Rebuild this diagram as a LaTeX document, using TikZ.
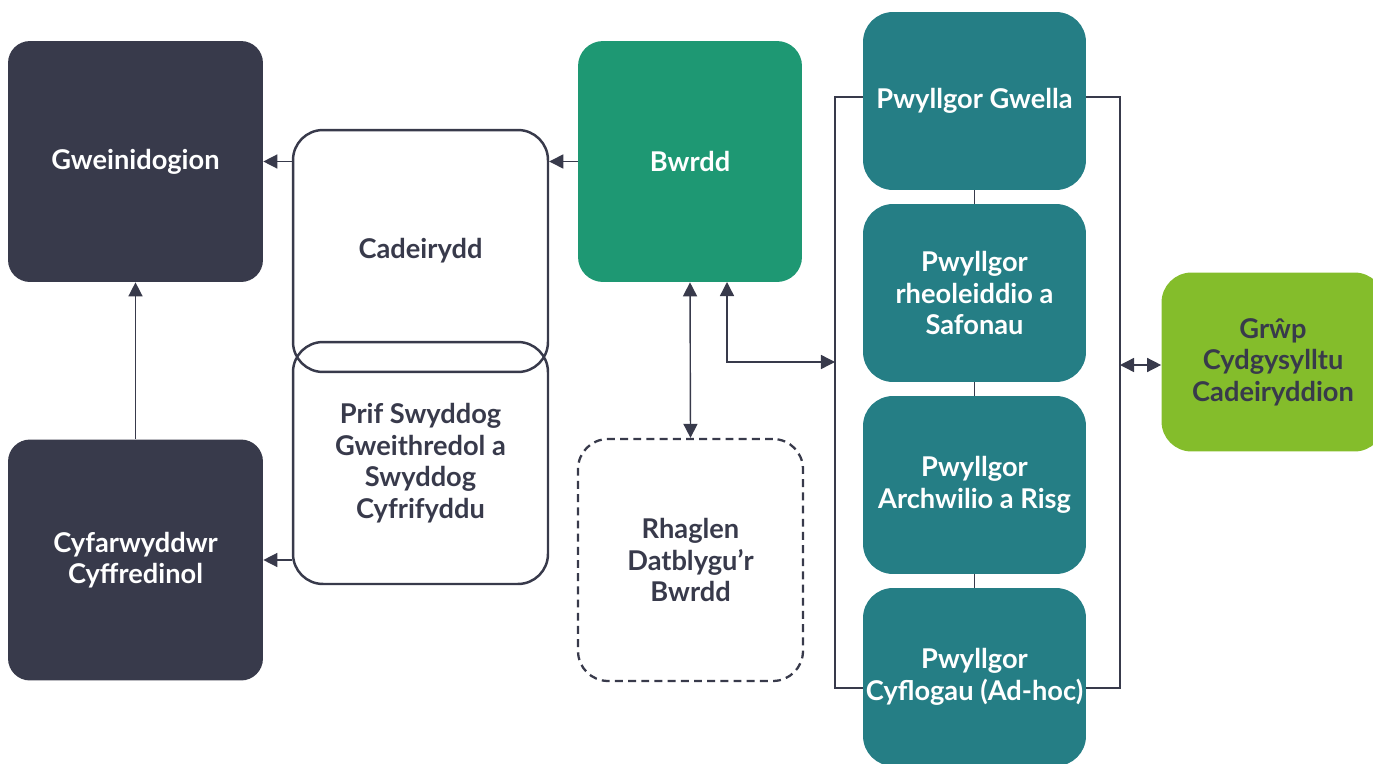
\documentclass[tikz,border=0pt]{standalone}
\usepackage{fontspec}
\setmainfont{Lato}
\usetikzlibrary{arrows.meta,positioning}
\definecolor{slate}{HTML}{383A4B}
\definecolor{boardgreen}{HTML}{1E9873}
\definecolor{teal}{HTML}{257E85}
\definecolor{lime}{HTML}{84BD2B}

\begin{document}
\begin{tikzpicture}[x=0.02cm,y=-0.02cm,
	font=\bfseries\fontsize{15.5}{17.9}\selectfont,
	darkbox/.style={rectangle, rounded corners=0.44cm, fill=slate, text=white, align=center, minimum width=5.1cm, minimum height=4.82cm},
	openbox/.style={rectangle, rounded corners=0.6cm, draw=slate, line width=1.4pt, text=slate, align=center, minimum width=5.1cm, minimum height=4.84cm},
	boardbox/.style={rectangle, rounded corners=0.5cm, fill=boardgreen, text=white, align=center, minimum width=4.48cm, minimum height=4.82cm},
	dashbox/.style={rectangle, rounded corners=0.6cm, draw=slate, line width=1.3pt, dash pattern=on 4.5pt off 3pt, text=slate, align=center, minimum width=4.5cm, minimum height=4.84cm},
	committee/.style={rectangle, rounded corners=0.6cm, fill=teal, text=white, align=center, inner xsep=1pt, minimum width=4.46cm, minimum height=3.56cm},
	groupbox/.style={rectangle, rounded corners=0.6cm, fill=lime, text=slate, align=center, minimum width=4.46cm, minimum height=3.58cm},
	link/.style={draw=slate, line width=0.8pt},
	paths/.style={-{Triangle[length=8pt,width=8pt]}, draw=slate, line width=0.8pt},
	bipaths/.style={{Triangle[length=8pt,width=8pt]}-{Triangle[length=8pt,width=8pt]}, draw=slate, line width=0.8pt}
	]
\useasboundingbox (0,0) rectangle (1373,764);

% left column
\node [darkbox] at (135.5,161.5) (gwein) {Gweinidogion};
\node [darkbox] at (135.5,560) (cyfar) {Cyfarwyddwr\\Cyffredinol};

% chair and chief executive
\node [openbox] at (420.5,251) (cadeirydd) {Cadeirydd};
\node [openbox] at (420.5,463) (prif) {Prif Swyddog\\Gweithredol a\\Swyddog\\Cyfrifyddu};

% board
\node [boardbox] at (690,161.5) (bwrdd) {Bwrdd};
\node [dashbox] at (690.5,560) (rhaglen) {Rhaglen\\Datblygu'r\\Bwrdd};

% committees
\node [committee] at (974.5,101) (gwella) {Pwyllgor Gwella};
\node [committee] at (974.5,293) (rheol) {Pwyllgor\\rheoleiddio a\\Safonau};
\node [committee] at (974.5,485) (archw) {Pwyllgor\\Archwilio a Risg};
\node [committee] at (974.5,677) (cyflog) {Pwyllgor\\Cyflogau (Ad-hoc)};

\node [groupbox] at (1273,362) (grwp) {Grŵp\\Cydgysylltu\\Cadeiryddion};

% bracket round the committees
\coordinate (brTL) at (835,97);
\coordinate (brBL) at (835,688);
\coordinate (brTR) at (1120,97);
\coordinate (brBR) at (1120,688);
\coordinate (brMid) at (835,362);
\coordinate (brMidR) at (1120,365);
\coordinate (bwrddR) at (727,282);

% paths
\draw[paths] (gwein.east -| cadeirydd.west) -- (gwein.east);
\draw[paths] (bwrdd.west) -- (bwrdd.west -| cadeirydd.east);
\draw[paths] (cyfar.east -| prif.west) -- (cyfar.east);
\draw[paths] (cyfar.north) -- (gwein.south);

\draw[bipaths] (bwrdd.south) -- (rhaglen.north);
\draw[bipaths] (bwrddR) |- (brMid);
\draw[bipaths] (brMidR) -- (grwp.west |- brMidR);

\draw[link] (gwella.west |- brTL) -- (brTL) -- (brBL) -- (cyflog.west |- brBL);
\draw[link] (gwella.east |- brTR) -- (brTR) -- (brBR) -- (cyflog.east |- brBR);

\foreach \a/\b in {gwella/rheol, rheol/archw, archw/cyflog}
	\draw[link] (\a.south) -- (\b.north);

\end{tikzpicture}
\end{document}
